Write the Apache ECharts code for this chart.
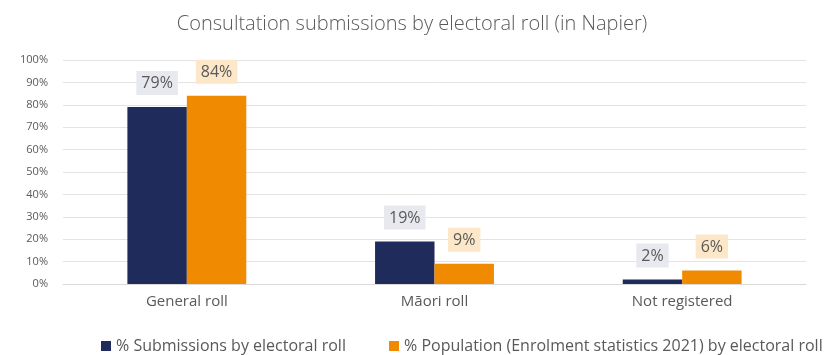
<!DOCTYPE html>
<html>
<head>
<meta charset="utf-8">
<script src="https://cdn.jsdelivr.net/npm/echarts@6/dist/echarts.min.js"></script>
<style>
  html, body { margin: 0; padding: 0; background: #ffffff; }
  #chart { width: 824px; height: 355px; }
</style>
</head>
<body>
<div id="chart"></div>
<script>
// Electoral roll categories and the two percentage series
const categories = ['General roll', 'Māori roll', 'Not registered'];
const submissions = [79, 19, 2];
const population = [84, 9, 6];
const yTicks = { min: 0, max: 100, interval: 10 };

const seriesNames = [
  '% Submissions by electoral roll',
  '% Population (Enrolment statistics 2021) by electoral roll'
];

const FONT = '"Open Sans", "Noto Sans", sans-serif';
const TEXT = '#595959';

function valueLabel(bg) {
  return {
    show: true,
    position: 'top',
    distance: 12,
    formatter: '{c}%',
    color: TEXT,
    fontFamily: FONT,
    fontSize: 16,
    lineHeight: 19,
    backgroundColor: bg,
    padding: [3, 5, 2, 5]
  };
}

// One legend block per series so the long second entry stays on the same row
function legendItem(name, left) {
  return {
    top: 338,
    left: left,
    padding: 0,
    itemWidth: 10,
    itemHeight: 10,
    icon: 'rect',
    textStyle: { fontFamily: FONT, fontSize: 16, color: TEXT },
    data: [name]
  };
}

const chart = echarts.init(document.getElementById('chart'), null, { renderer: 'canvas' });
chart.setOption({
  animation: false,
  backgroundColor: '#ffffff',
  title: {
    text: 'Consultation submissions by electoral roll (in Napier)',
    left: 'center',
    top: 9,
    textStyle: { fontFamily: FONT, fontSize: 20, fontWeight: 'lighter', color: TEXT }
  },
  grid: { left: 63, right: 18, top: 60, bottom: 71 },
  legend: [legendItem(seriesNames[0], 101), legendItem(seriesNames[1], 389)],
  xAxis: {
    type: 'category',
    data: categories,
    axisLine: { lineStyle: { color: '#d9d9d9' } },
    axisTick: { show: false },
    axisLabel: { color: TEXT, fontFamily: FONT, fontSize: 15, margin: 10 }
  },
  yAxis: {
    type: 'value',
    min: yTicks.min,
    max: yTicks.max,
    interval: yTicks.interval,
    axisLine: { show: false },
    axisTick: { show: false },
    axisLabel: { formatter: '{value}%', color: TEXT, fontFamily: FONT, fontSize: 11, margin: 15 },
    splitLine: { lineStyle: { color: '#e3e3e3' } }
  },
  series: [
    {
      name: seriesNames[0],
      type: 'bar',
      data: submissions,
      barWidth: '24%',
      barGap: '0%',
      itemStyle: { color: '#1f2c5b' },
      label: valueLabel('#e8e9ef')
    },
    {
      name: seriesNames[1],
      type: 'bar',
      data: population,
      barWidth: '24%',
      itemStyle: { color: '#f08a00' },
      label: valueLabel('#fde7c9')
    }
  ]
});
</script>
</body>
</html>
